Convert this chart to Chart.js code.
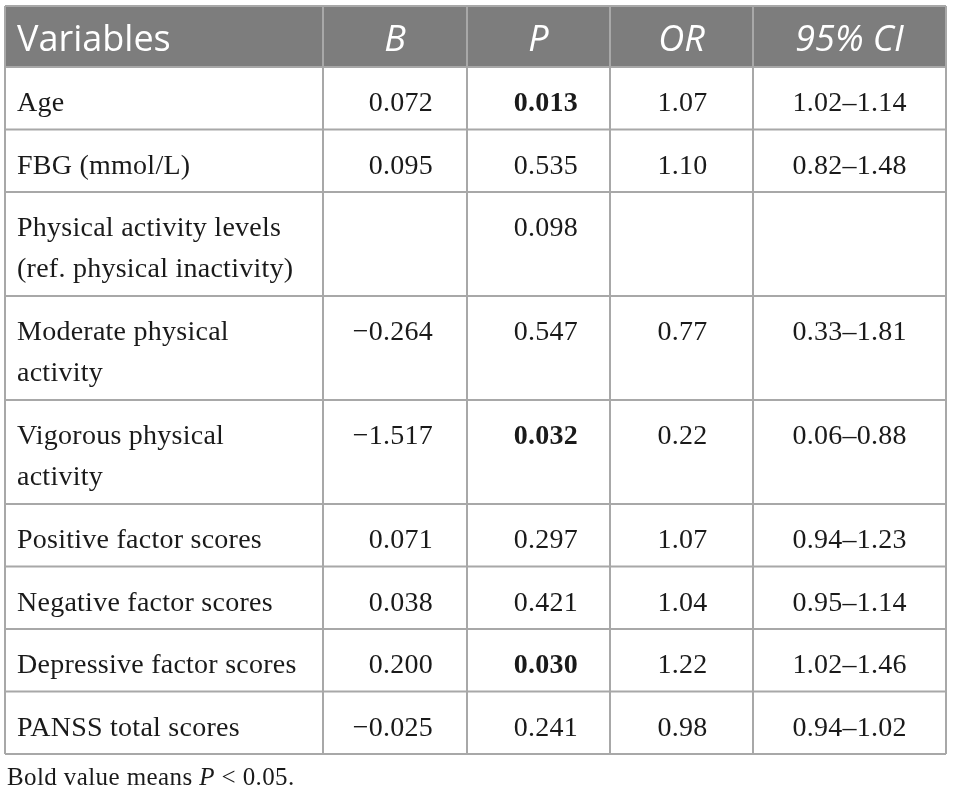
<!DOCTYPE html>
<html>
<head>
<meta charset="utf-8">
<script src="https://cdn.jsdelivr.net/npm/chart.js@4.4.0/dist/chart.umd.min.js"></script>
<style>
  html, body { margin: 0; padding: 0; background: #fff; }
  .table__wrap { width: 953px; height: 801px; }
</style>
</head>
<body>
<div class="table__wrap"><canvas id="myChart"></canvas></div>
<script>
const headers = ['Variables', 'B', 'P', 'OR', '95% CI'];
const variables = [
  'Age',
  'FBG (mmol/L)',
  'Physical activity levels\n(ref. physical inactivity)',
  'Moderate physical\nactivity',
  'Vigorous physical\nactivity',
  'Positive factor scores',
  'Negative factor scores',
  'Depressive factor scores',
  'PANSS total scores',
];
const bValues = [0.072, 0.095, null, -0.264, -1.517, 0.071, 0.038, 0.200, -0.025];
const pValues = [0.013, 0.535, 0.098, 0.547, 0.032, 0.297, 0.421, 0.030, 0.241];
const orValues = [1.07, 1.10, null, 0.77, 0.22, 1.07, 1.04, 1.22, 0.98];
const ciLower = [1.02, 0.82, null, 0.33, 0.06, 0.94, 0.95, 1.02, 0.94];
const ciUpper = [1.14, 1.48, null, 1.81, 0.88, 1.23, 1.14, 1.46, 1.02];

// layout (scale units = px of the 953x801 picture)
const colEdges = [5, 323, 467, 610, 753, 946];
const headerTop = 6;
const headerH = 61;
const lineH = 41.5;
const rowPad = 21;

const BODY_FONT = '28px "Liberation Serif"';
const BOLD_FONT = 'bold 28px "Liberation Serif"';
const NOTE_FONT = '25px "Liberation Serif"';

function fmt(v, d) {
  if (v === null || v === undefined) return '';
  return v.toFixed(d).replace('-', '\u2212');
}

const tablePlugin = {
  id: 'table',
  afterDraw(chart) {
    const { ctx } = chart;
    const { x, y } = chart.scales;
    const px = (v) => x.getPixelForValue(v);
    const py = (v) => y.getPixelForValue(v);

    const tops = [headerTop, headerTop + headerH];
    variables.forEach((v) => {
      const n = v.split('\n').length;
      tops.push(tops[tops.length - 1] + rowPad + lineH * n);
    });
    const bottom = tops[tops.length - 1];

    ctx.save();

    // header band
    ctx.fillStyle = '#7d7d7d';
    ctx.fillRect(px(colEdges[0]), py(tops[0]), px(colEdges[5]) - px(colEdges[0]), py(tops[1]) - py(tops[0]));

    ctx.fillStyle = '#ffffff';
    ctx.textBaseline = 'alphabetic';
    headers.forEach((h, i) => {
      ctx.font = (i === 0 ? '' : 'italic ') + '36px "Open Sans"';
      if (i === 0) {
        ctx.textAlign = 'left';
        ctx.fillText(h, px(colEdges[0] + 12), py(tops[0] + 45));
      } else {
        ctx.textAlign = 'center';
        ctx.fillText(h, px((colEdges[i] + colEdges[i + 1]) / 2), py(tops[0] + 45));
      }
    });

    // body
    ctx.fillStyle = '#1a1a1a';
    ctx.letterSpacing = '0.25px';
    variables.forEach((v, r) => {
      const top = tops[r + 1];
      const base = top + 44;
      ctx.font = BODY_FONT;
      ctx.textAlign = 'left';
      v.split('\n').forEach((line, k) => {
        ctx.fillText(line, px(colEdges[0] + 12), py(base + k * 41));
      });

      ctx.textAlign = 'right';
      ctx.fillText(fmt(bValues[r], 3), px(colEdges[2] - 34), py(base));

      ctx.font = pValues[r] < 0.05 ? BOLD_FONT : BODY_FONT;
      ctx.fillText(fmt(pValues[r], 3), px(colEdges[3] - 32), py(base));

      ctx.font = BODY_FONT;
      ctx.textAlign = 'center';
      ctx.fillText(fmt(orValues[r], 2), px((colEdges[3] + colEdges[4]) / 2 + 1), py(base));
      if (ciLower[r] !== null) {
        const ci = fmt(ciLower[r], 2) + '\u2013' + fmt(ciUpper[r], 2);
        ctx.fillText(ci, px((colEdges[4] + colEdges[5]) / 2), py(base));
      }
    });

    // grid lines
    ctx.strokeStyle = '#a8a8a8';
    ctx.lineWidth = 2;
    ctx.beginPath();
    tops.forEach((t) => {
      ctx.moveTo(px(colEdges[0]), py(t));
      ctx.lineTo(px(colEdges[5]), py(t));
    });
    colEdges.forEach((c) => {
      ctx.moveTo(px(c), py(tops[0]));
      ctx.lineTo(px(c), py(bottom));
    });
    ctx.stroke();

    // footnote
    ctx.letterSpacing = '0.4px';
    ctx.textAlign = 'left';
    ctx.fillStyle = '#1a1a1a';
    const parts = [
      ['Bold value means ', NOTE_FONT],
      ['P', 'italic ' + NOTE_FONT],
      [' < 0.05.', NOTE_FONT],
    ];
    let fx = px(7);
    parts.forEach(([t, f]) => {
      ctx.font = f;
      ctx.fillText(t, fx, py(785));
      fx += ctx.measureText(t).width;
    });

    ctx.restore();
  },
};

function graph() {
  const ctx = document.querySelector('#myChart');
  // eslint-disable-next-line no-unused-vars
  const table = new Chart(ctx, {
    type: 'scatter',
    data: { datasets: [] },
    options: {
      responsive: true,
      maintainAspectRatio: false,
      animation: false,
      layout: { padding: 0 },
      plugins: { legend: { display: false }, tooltip: { enabled: false } },
      scales: {
        x: { type: 'linear', min: 0, max: 953, display: false },
        y: { type: 'linear', min: 0, max: 801, reverse: true, display: false },
      },
    },
    plugins: [tablePlugin],
  });
}

Promise.all([
  document.fonts.load('36px "Open Sans"'),
  document.fonts.load('italic 36px "Open Sans"'),
  document.fonts.load('28px "Liberation Serif"'),
  document.fonts.load('bold 28px "Liberation Serif"'),
]).catch(() => null).then(graph);
</script>
</body>
</html>
